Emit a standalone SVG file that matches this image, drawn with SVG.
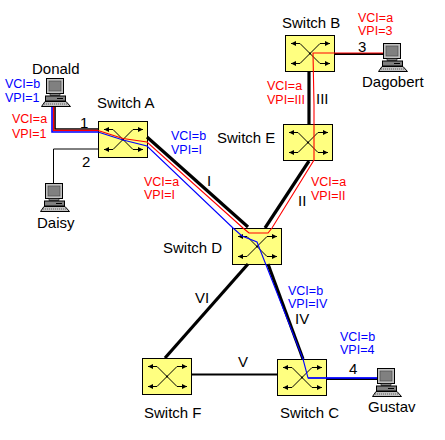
<svg xmlns="http://www.w3.org/2000/svg" width="445" height="440" viewBox="0 0 445 440">
<style>
text{font-family:"Liberation Sans",Arial,sans-serif;font-size:15px;fill:#000}
.r{fill:#f00;font-size:12.5px}
.b{fill:#00f;font-size:12.5px}
.k{stroke:#000;fill:none}
.w1{stroke-width:1}.w2{stroke-width:2}.w3{stroke-width:3.2}
.red{stroke:#f00;fill:none;stroke-width:1.1}
.blu{stroke:#00f;fill:none;stroke-width:1.1}
.fat{stroke-width:1.6}
.box{fill:#ffff80;stroke:#000;stroke-width:1}
.x{stroke:#000;fill:none;stroke-width:1}
</style>
<defs>
<marker id="a" viewBox="0 0 5 5" refX="5" refY="2.5" markerWidth="5" markerHeight="5" markerUnits="userSpaceOnUse" orient="auto"><path d="M0 0L5 2.5L0 5Z" fill="#000"/></marker>
<g id="sw">
<rect class="box" x="0.5" y="0.5" width="49" height="36"/>
<circle cx="25" cy="18.5" r="1" fill="#000"/>
<path class="x" d="M25 18.5L15 8.5H6" marker-end="url(#a)"/>
<path class="x" d="M25 18.5L15 28.5H6" marker-end="url(#a)"/>
<path class="x" d="M25 18.500L35 8.5H45" marker-end="url(#a)"/>
<path class="x" d="M25 18.500L35 28.5H45" marker-end="url(#a)"/>
</g>
<g id="pc">
<rect x="5.5" y="0.5" width="17" height="15" fill="#c0c0c0" stroke="#000"/>
<rect x="8" y="3" width="12" height="10" fill="#808080" stroke="#404040" stroke-width="0.6"/>
<rect x="9" y="15.5" width="10" height="2" fill="#808080" stroke="#000" stroke-width="0.6"/>
<rect x="4.5" y="18" width="20" height="5" fill="#808080" stroke="#000"/>
<path d="M16 20.5h6" stroke="#000"/>
<path d="M4 23.5H25L29.500 28.5H0.5Z" fill="#c0c0c0" stroke="#000"/>
<path d="M3 26H27" stroke="#606060" stroke-dasharray="1 1"/>
</g>
</defs>
<g id="switch-a"><use href="#sw" x="98" y="121"/><text x="97" y="108">Switch A</text></g>
<g id="switch-b"><use href="#sw" x="285" y="35"/><text x="282" y="28">Switch B</text></g>
<g id="switch-e"><use href="#sw" x="283" y="124"/><text x="217" y="143">Switch E</text></g>
<g id="switch-d"><use href="#sw" x="232" y="228"/><text x="163" y="253">Switch D</text></g>
<g id="switch-f"><use href="#sw" x="142" y="358"/><text x="144" y="418">Switch F</text></g>
<g id="switch-c"><use href="#sw" x="277" y="359"/><text x="280" y="418">Switch C</text></g>
<g id="donald"><use href="#pc" x="41" y="78"/><text x="32" y="74">Donald</text></g>
<g id="daisy"><use href="#pc" x="40" y="183"/><text x="37" y="228">Daisy</text></g>
<g id="dagobert"><use href="#pc" x="378" y="43"/><text x="362" y="87">Dagobert</text></g>
<g id="gustav"><use href="#pc" x="372" y="368"/><text x="368" y="412">Gustav</text></g>
<g id="connectors">
<path class="k fat" d="M55 107V129H98"/>
<path class="k w1" d="M53.5 183V149H98"/>
<path class="k w3" d="M147 137L248 227"/>
<path class="k w3" d="M265 228L309 161"/>
<path class="k w3" d="M309 71V124"/>
<path class="k w2" d="M334 54H383"/>
<path class="k w3" d="M165 358L248 264"/>
<path class="k w3" d="M268 264L303 359"/>
<path class="k w2" d="M192 374.5H277"/>
<path class="k w2" d="M327 379H377"/>
<path class="red fat" d="M53.500 107V130.500H98"/>
<path class="blu fat" d="M52 107V132H98"/>
<path class="red" d="M98 130.500L123 138.500L147 142L243 228L249 233H268L272 228L314 160V105L313 53H383"/>
<path class="blu" d="M98 132L123 140L147 146L233 228L242 236L257 242L303 359L308 378H377"/>
<path class="blu fat" d="M308 378H377"/>
</g>
<g id="labels">
<text x="80" y="128">1</text><text x="82" y="167">2</text><text x="358" y="52">3</text><text x="349" y="374">4</text>
<text x="207" y="186">I</text><text x="298" y="206">II</text><text x="316" y="104">III</text><text x="295" y="324">IV</text><text x="238" y="367">V</text><text x="195" y="303">VI</text>
<text class="b" x="5" y="88">VCI=b</text><text class="b" x="5" y="102">VPI=1</text>
<text class="r" x="12" y="123">VCI=a</text><text class="r" x="12" y="138">VPI=1</text>
<text class="b" x="171" y="140">VCI=b</text><text class="b" x="171" y="154">VPI=I</text>
<text class="r" x="144" y="186">VCI=a</text><text class="r" x="144" y="199">VPI=I</text>
<text class="r" x="358" y="22">VCI=a</text><text class="r" x="358" y="35">VPI=3</text>
<text class="r" x="267" y="90">VCI=a</text><text class="r" x="267" y="104">VPI=III</text>
<text class="r" x="311" y="186">VCI=a</text><text class="r" x="311" y="200">VPI=II</text>
<text class="b" x="288" y="295">VCI=b</text><text class="b" x="288" y="308">VPI=IV</text>
<text class="b" x="340" y="341">VCI=b</text><text class="b" x="340" y="354">VPI=4</text>
</g>
</svg>
